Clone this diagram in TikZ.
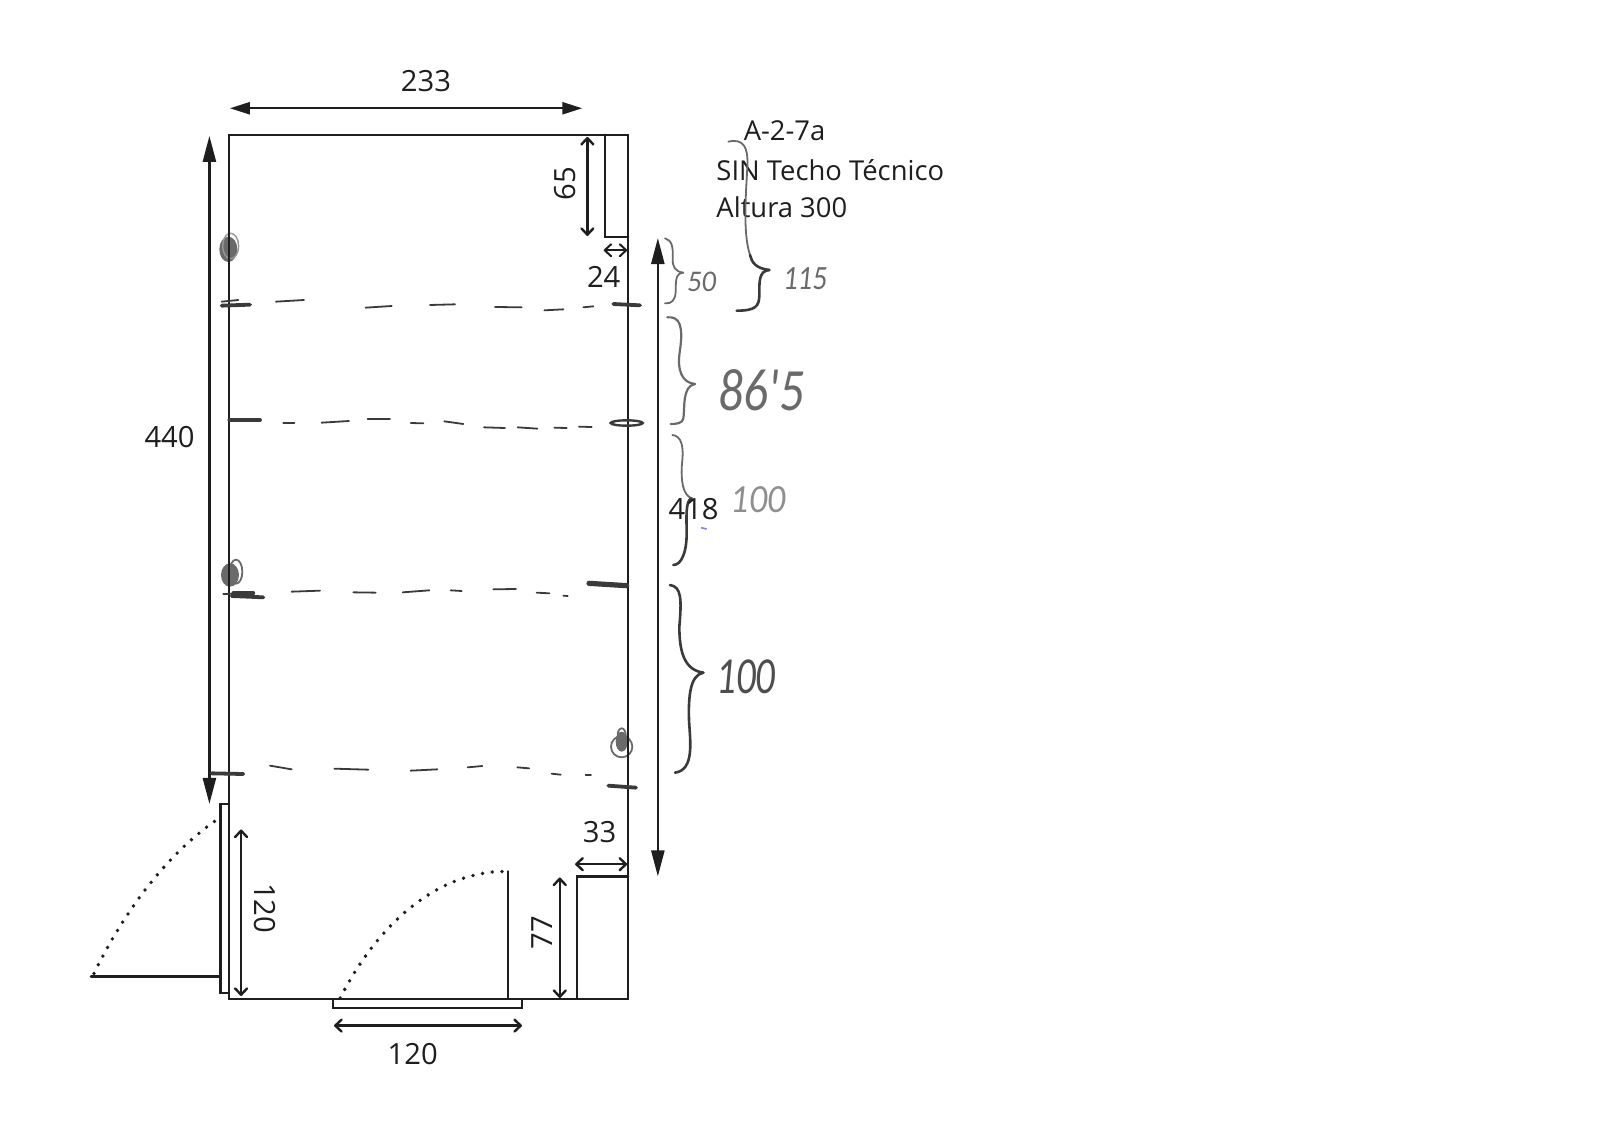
\documentclass[tikz,border=0pt]{standalone}
\usepackage{fontspec}
\setmainfont{Open Sans}
\newfontfamily\handfont{Carlito}
\usetikzlibrary{arrows.meta}
\definecolor{ink}{HTML}{1E1E1E}
\definecolor{pencil}{HTML}{6A6A6A}
\definecolor{pencilB}{HTML}{3A3A3A}
\tikzset{
  wall/.style={draw=ink,line width=1.2pt,line cap=round,line join=miter},
  bigdim/.style={draw=ink,line width=1.2pt,{Triangle[length=13pt,width=6.5pt]}-{Triangle[length=13pt,width=6.5pt]}},
  dimline/.style={draw=ink,line width=1.2pt,{Straight Barb[length=3.2pt,width=6pt,round]}-{Straight Barb[length=3.2pt,width=6pt,round]}},
  tridim/.style={draw=ink,line width=1.2pt,{Triangle[length=10pt,width=6pt]}-{Triangle[length=10pt,width=6pt]}},
  dotline/.style={draw=ink,line width=1.9pt,line cap=round,dash pattern=on 0pt off 4.9pt},
  lab/.style={font=\fontsize{14.6}{16}\selectfont,text=ink,inner sep=0pt},
  titlelab/.style={font=\fontsize{13.7}{16}\selectfont,text=ink,inner sep=0pt},
  hand/.style={text=pencil,inner sep=0pt},
  pen/.style={draw=pencilB,line width=0.9pt,line cap=round},
  penthick/.style={draw=pencilB,line width=1.9pt,line cap=round},
  braceA/.style={draw=pencil,line width=0.9pt,line cap=round,line join=round},
  braceB/.style={draw=pencilB,line width=1.3pt,line cap=round,line join=round},
  zA/.style={x=0.16667pt,y=-0.16667pt,shift={(320pt,-50pt)}},
  zB/.style={x=0.16667pt,y=-0.16667pt,shift={(320pt,-210pt)}},
  zC/.style={x=0.16667pt,y=-0.16667pt,shift={(100pt,-110pt)}},
  zD/.style={x=0.16667pt,y=-0.16667pt,shift={(100pt,-265pt)}},
}
\begin{document}
\begin{tikzpicture}[x=0.51075pt,y=-0.51075pt]
\useasboundingbox[fill=white] (0,0) rectangle (1566.3,1107.35);
% scribbled marks under the walls
\begin{scope}[zC]
\fill[pencil] (85,88) ellipse [x radius=27,y radius=38];
\draw[pencil!70,line width=0.7pt] (92,78) ellipse [x radius=24,y radius=38];
\end{scope}
\begin{scope}[zD]
\fill[pencil] (90,135) ellipse [x radius=27,y radius=35];
\draw[pencil,line width=0.9pt] (108,125) ellipse [x radius=19,y radius=36];
\fill[pencil] (1265,635) ellipse [x radius=18,y radius=30];
\draw[pencil,line width=0.9pt] (1265,650) ellipse [x radius=32,y radius=32];
\draw[pencil,line width=0.9pt] (1265,615) ellipse [x radius=12,y radius=20];
\end{scope}
% room
\draw[wall] (224,978) -- (224,132) -- (615,132) -- (615,978) -- cycle;
\draw[wall] (592,132) -- (592,232) -- (615,232);
\draw[wall] (565,978) -- (565,858) -- (615,858);
\draw[wall] (497,978) -- (497,853);
\draw[wall] (326,978) -- (326,987) -- (511,987) -- (511,978);
\draw[wall] (224,787) -- (216,787) -- (216,972) -- (224,972);
\draw[wall] (89,956) -- (214,956);
\draw[dotline] (333,977) .. controls (375,895) and (435,853) .. (495,853);
\draw[dotline] (92,953) .. controls (125,885) and (170,830) .. (216,800);
% dimensions
\coordinate (a1) at (225,106); \coordinate (a2) at (570,106);
\draw[tridim] (a1) -- (a2);
\node[lab] (t233) at (417,79) {233};
\coordinate (b1) at (205,133); \coordinate (b2) at (205,787);
\draw[bigdim] (b1) -- (b2);
\node[lab] (t440) at (166,428) {440};
\coordinate (c1) at (644,233); \coordinate (c2) at (644,858);
\draw[bigdim] (c1) -- (c2);
\coordinate (d1) at (575,134); \coordinate (d2) at (575,231);
\draw[dimline] (d1) -- (d2);
\node[lab,rotate=90] (t65) at (553,180) {65};
\coordinate (e1) at (591,245); \coordinate (e2) at (614,245);
\draw[dimline,line width=1pt] (e1) -- (e2);
\node[lab] (t24) at (591,271) {24};
\coordinate (f1) at (563,846); \coordinate (f2) at (614,846);
\draw[dimline] (f1) -- (f2);
\node[lab] (t33) at (587,815) {33};
\coordinate (g1) at (548,859); \coordinate (g2) at (548,977);
\draw[dimline] (g1) -- (g2);
\node[lab,rotate=90] (t77) at (531,913) {77};
\coordinate (h1) at (327,1004); \coordinate (h2) at (511,1004);
\draw[dimline] (h1) -- (h2);
\node[lab] (t120b) at (404,1032) {120};
\coordinate (i1) at (236,812); \coordinate (i2) at (236,975);
\draw[dimline] (i1) -- (i2);
\node[lab,rotate=-90] (t120a) at (259,889) {120};
% title
\node[titlelab] (ttitle) at (768,128) {A-2-7a};
\node[titlelab,anchor=west] (tsin) at (701,167) {SIN Techo Técnico};
\node[titlelab,anchor=west] (talt) at (701,203) {Altura 300};
% braces
\begin{scope}[zA]
\draw[braceA] (75,415) .. controls (95,420) and (100,440) .. (98,475) .. controls (97,500) and (105,515) .. (130,518);
\draw[braceA] (130,518) .. controls (105,520) and (108,545) .. (107,575) .. controls (106,600) and (95,612) .. (75,610);
\draw[braceA] (265,125) .. controls (310,115) and (325,140) .. (322,200) .. controls (318,280) and (308,400) .. (330,465);
\draw[braceB] (330,465) .. controls (335,485) and (345,505) .. (388,510);
\draw[braceB] (388,510) .. controls (355,512) and (358,550) .. (358,585) .. controls (358,620) and (345,632) .. (290,632);
\draw[braceA,line width=1.1pt] (82,652) .. controls (120,648) and (130,680) .. (120,750) .. controls (110,810) and (125,848) .. (165,852);
\draw[braceA,line width=1.1pt] (165,852) .. controls (125,858) and (135,930) .. (130,955) .. controls (128,970) and (110,972) .. (92,972);
\node[hand,xscale=0.95,font=\handfont\itshape\fontsize{15}{15}\selectfont] (t50) at (185,545) {50};
\node[hand,xscale=0.85,font=\handfont\itshape\fontsize{17}{17}\selectfont] (t115) at (495,535) {115};
\node[hand,xscale=0.82,font=\handfont\itshape\fontsize{30}{30}\selectfont] (t865) at (365,870) {86'5};
\end{scope}
\begin{scope}[zB]
\draw[braceA] (97,45) .. controls (125,48) and (132,80) .. (126,130) .. controls (122,180) and (128,225) .. (155,235);
\draw[braceB] (155,235) .. controls (135,240) and (140,300) .. (140,340) .. controls (140,395) and (125,435) .. (100,435);
\draw[braceB] (90,495) .. controls (125,500) and (125,540) .. (118,620) .. controls (118,700) and (135,750) .. (190,758);
\draw[braceB] (190,758) .. controls (150,765) and (145,830) .. (147,900) .. controls (150,960) and (165,1050) .. (105,1058);
\node[hand,text=pencil!75,xscale=0.9,font=\handfont\itshape\fontsize{20}{20}\selectfont] (t100a) at (355,240) {100};
\node[hand,xscale=0.75,text=pencilB!90,font=\handfont\itshape\fontsize{26}{26}\selectfont] (t100b) at (318,770) {100};
\draw[blue!50,line width=0.8pt] (183,323) -- (200,327);
\end{scope}
\node[lab] (t418) at (679,498) {418};
\begin{scope}[zC]
\foreach \a/\b/\c/\d in {228/245/312/240,497/263/575/258,690/255/765/253,885/261/965/262,1033/271/1090/268,1150/262/1180/259,65/245/115/240,250/608/283/608,365/608/447/603,503/598/570/598,632/609/670/610,733/604/790/612,852/622/915/624,953/622/1012/626,1063/623/1100/624,1137/620/1175/621}
  \draw[pen] (\a,\b) -- (\c,\d);
\draw[penthick] (65,257) -- (150,254);
\draw[penthick] (1240,252) -- (1320,256);
\draw[penthick] (88,600) -- (180,600);
\draw[pencilB,line width=1.2pt] (1280,609) ellipse [x radius=48,y radius=8];
\end{scope}
\begin{scope}[zD]
\foreach \a/\b/\c/\d in {70/192/160/190,275/185/360/182,460/187/527/188,608/187/688/181,752/181/785/183,880/178/948/177,1010/188/1048/190,1090/197/1103/198,210/707/275/718,403/716/505/719,632/722/712/718,803/712/847/708,952/712/987/715,1055/731/1082/734,1157/735/1173/735}
  \draw[pen] (\a,\b) -- (\c,\d);
\draw[penthick] (95,198) -- (190,202);
\draw[penthick] (100,190) -- (160,190);
\draw[penthick,line width=2.6pt] (1167,160) -- (1280,167);
\draw[penthick] (35,730) -- (130,732);
\draw[penthick] (1225,767) -- (1308,773);
\end{scope}
\end{tikzpicture}
\end{document}
